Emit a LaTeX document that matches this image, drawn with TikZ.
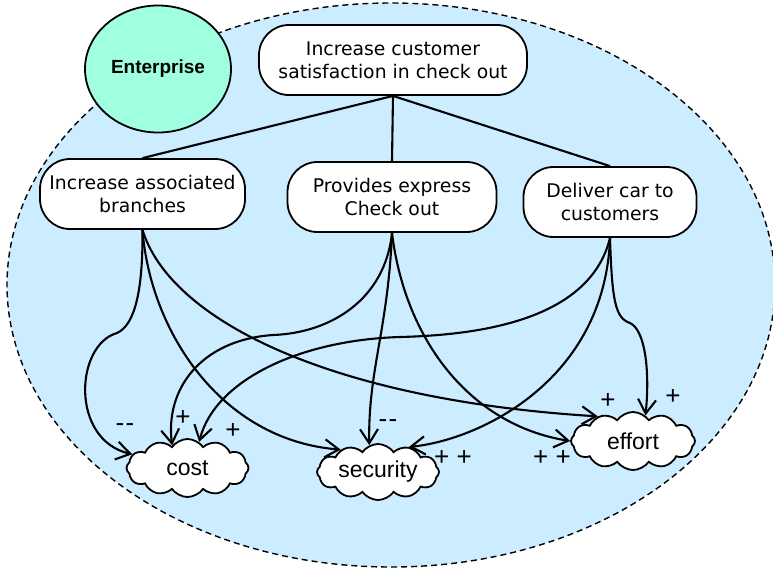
\documentclass[tikz,border=0pt]{standalone}
\usepackage{fontspec}
\setmainfont{Liberation Sans}
\newfontfamily\vfont{DejaVu Sans}
\usetikzlibrary{shapes.geometric,shapes.symbols,arrows.meta}
\definecolor{bgblue}{RGB}{204,236,255}
\definecolor{entgreen}{RGB}{160,255,224}
\begin{document}
\begin{tikzpicture}[x=1pt,y=-1pt,
  goal/.style={draw,line width=1.8pt,fill=white,rounded corners=30pt,minimum height=70pt,align=center,font=\vfont\fontsize{18.8}{23}\selectfont,inner sep=0pt},
  soft/.style={draw,line width=1.8pt,fill=white,cloud,cloud puffs=12,cloud puff arc=110,cloud ignores aspect,font=\fontsize{23}{26}\selectfont,inner sep=0pt},
  link/.style={line width=2.1pt},
  infl/.style={line width=2.1pt,-{Straight Barb[length=14pt,width=18pt]}},
  lab/.style={font=\fontsize{26}{26}\selectfont,inner sep=0pt}
]
\useasboundingbox (0,0) rectangle (773,571);
\begin{scope}
\clip (0,0) rectangle (773,571);
\draw[dash pattern=on 6pt off 4pt,line width=1.4pt,fill=bgblue] (391,285) ellipse [x radius=384, y radius=282];
\end{scope}
\node[ellipse,draw,line width=1.8pt,fill=entgreen,minimum width=146pt,minimum height=127pt,font=\bfseries\fontsize{19}{20}\selectfont] (ent) at (158,69) {Enterprise};

\node[goal,minimum width=268pt] (top) at (393,60) {Increase customer\\satisfaction in check out};
\node[goal,minimum width=205pt] (br) at (142.5,194) {Increase associated\\branches};
\node[goal,minimum width=209pt] (pe) at (392,197) {Provides express\\Check out};
\node[goal,minimum width=173pt] (dc) at (610,202) {Deliver car to\\customers};

\node[soft,minimum width=122pt,minimum height=58pt] (cost) at (187.5,468) {cost};
\node[soft,minimum width=122pt,minimum height=56pt] (sec) at (378,472) {security};
\node[soft,minimum width=124pt,minimum height=58pt] (eff) at (633,441) {effort};

\draw[link] (top.south) -- (br.north);
\draw[link] (top.south) -- (pe.north);
\draw[link] (top.south) -- (dc.north);

% from branches
\draw[infl] (br.south) .. controls (143,290) and (135,325) .. (117,333) .. controls (75,345) and (70,440) .. (cost.166);
\draw[infl] (br.south) .. controls (150,330) and (220,440) .. (sec.149);
\draw[infl] (br.south) .. controls (170,320) and (330,400) .. (eff.145);
% from provides
\draw[infl] (pe.south) .. controls (385,300) and (330,333) .. (273,335) .. controls (200,340) and (165,390) .. (cost.124);
\draw[infl] (pe.south) .. controls (388,330) and (368,370) .. (sec.108);
\draw[infl] (pe.south) .. controls (405,340) and (470,425) .. (eff.180);
% from deliver
\draw[infl] (dc.south) .. controls (590,320) and (480,335) .. (400,337) .. controls (300,340) and (215,380) .. (cost.66);
\draw[infl] (dc.south) .. controls (605,380) and (480,440) .. (sec.39);
\draw[infl] (dc.south) .. controls (612,300) and (615,318) .. (630,323) .. controls (645,330) and (650,370) .. (eff.64);

% labels
\node[lab] (l1) at (125,428) {{-}\kern1.5pt{-}};
\node[lab] (l2) at (183,418) {+};
\node[lab] (l3) at (233,431) {+};
\node[lab] (l4) at (388,424) {{-}\kern1.5pt{-}};
\node[lab] (l5) at (453,458) {+ +};
\node[lab] (l6) at (552,458) {+ +};
\node[lab] (l7) at (608,401) {+};
\node[lab] (l8) at (673,397) {+};
\end{tikzpicture}
\end{document}
